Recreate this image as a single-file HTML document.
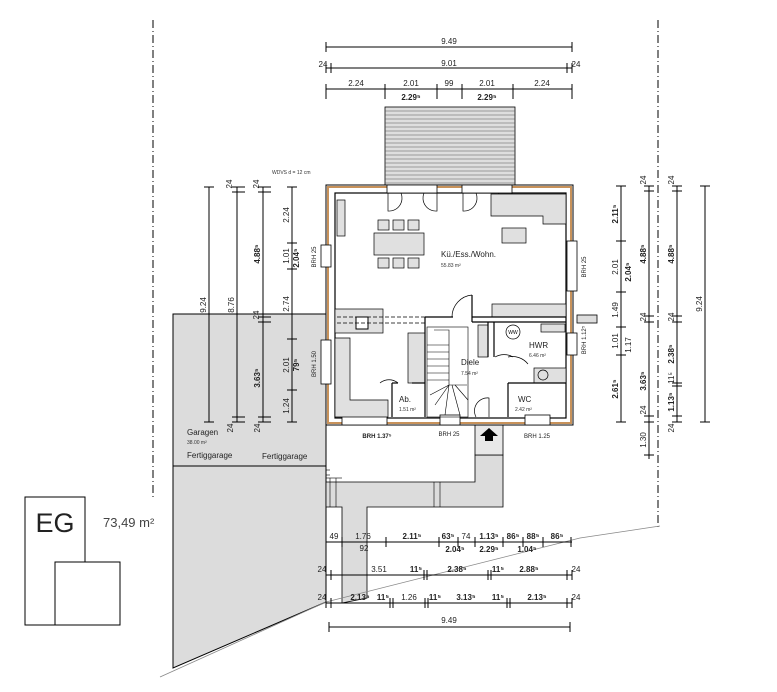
<!DOCTYPE html>
<html><head><meta charset="utf-8"><style>
html,body{margin:0;padding:0;background:#fff;}
svg{display:block;font-family:"Liberation Sans",sans-serif;}
.d{stroke:#000;stroke-width:1;fill:none}
.t{font-size:8px;fill:#222;text-anchor:middle}
.b{font-weight:bold}
.s{font-size:5px;fill:#333}
</style></head><body>
<svg width="777" height="692" viewBox="0 0 777 692" xmlns="http://www.w3.org/2000/svg">
<!-- dash-dot lines -->
<line x1="153" y1="20" x2="153" y2="500" stroke="#000" stroke-width="1" stroke-dasharray="8,3,1,3"/>
<line x1="658" y1="20" x2="658" y2="530" stroke="#000" stroke-width="1" stroke-dasharray="8,3,1,3"/>

<!-- garage grey -->
<polygon points="173,314 326,314 326,602 173,668" fill="#dcdcdc" stroke="#000" stroke-width="1"/>
<line x1="173" y1="466" x2="326" y2="466" stroke="#000"/>
<polygon points="326,482 475,482 475,455 503,455 503,507 367,507 367,598 342,603 342,507 326,507" fill="#dcdcdc" stroke="#000" stroke-width="0.8"/>
<rect x="475" y="425" width="28" height="30" fill="#e8e8e8" stroke="#000" stroke-width="0.8"/>
<path d="M489,428 L480,436 L485,436 L485,441 L493,441 L493,436 L498,436 Z" fill="#000"/>
<line x1="434" y1="482" x2="434" y2="507" stroke="#000" stroke-width="0.6"/>
<line x1="440" y1="482" x2="440" y2="507" stroke="#000" stroke-width="0.6"/>
<g stroke="#000" stroke-width="0.6"><line x1="326" y1="470" x2="330" y2="470"/><line x1="326" y1="475" x2="330" y2="475"/><line x1="326" y1="478" x2="342" y2="478"/><line x1="330" y1="478" x2="330" y2="507"/><line x1="336" y1="478" x2="336" y2="507"/></g>
<!-- diagonal ground line -->
<polyline points="160,677 326,602 580,538 660,526" fill="none" stroke="#888" stroke-width="0.8"/>

<!-- terrace -->
<rect x="385" y="107" width="130" height="80" fill="#dedede" stroke="#000" stroke-width="0.8"/>
<g stroke="#555" stroke-width="0.6">
<line x1="385" y1="111" x2="515" y2="111"/><line x1="385" y1="115" x2="515" y2="115"/><line x1="385" y1="119" x2="515" y2="119"/><line x1="385" y1="123" x2="515" y2="123"/><line x1="385" y1="127" x2="515" y2="127"/><line x1="385" y1="131" x2="515" y2="131"/><line x1="385" y1="135" x2="515" y2="135"/><line x1="385" y1="139" x2="515" y2="139"/><line x1="385" y1="143" x2="515" y2="143"/><line x1="385" y1="147" x2="515" y2="147"/><line x1="385" y1="151" x2="515" y2="151"/><line x1="385" y1="155" x2="515" y2="155"/><line x1="385" y1="159" x2="515" y2="159"/><line x1="385" y1="163" x2="515" y2="163"/><line x1="385" y1="167" x2="515" y2="167"/><line x1="385" y1="171" x2="515" y2="171"/><line x1="385" y1="175" x2="515" y2="175"/><line x1="385" y1="179" x2="515" y2="179"/><line x1="385" y1="183" x2="515" y2="183"/>
</g>

<!-- building walls -->
<rect x="326" y="185" width="247" height="240" fill="#fff" stroke="#000" stroke-width="1"/>
<rect x="328" y="187" width="243" height="236" fill="none" stroke="#c8925a" stroke-width="2"/>
<rect x="335" y="193" width="231" height="225" fill="none" stroke="#000" stroke-width="1.2"/>
<!-- windows -->
<g fill="#fff" stroke="#000" stroke-width="0.8">
<rect x="387" y="185" width="50" height="8"/><rect x="462" y="185" width="50" height="8"/>
<rect x="321" y="245" width="10" height="22"/><rect x="321" y="340" width="10" height="44"/>
<rect x="567" y="241" width="10" height="50"/><rect x="567" y="333" width="10" height="22"/>
<rect x="342" y="415" width="45" height="10"/><rect x="440" y="415" width="20" height="10"/><rect x="525" y="415" width="25" height="10"/>
<rect x="577" y="315" width="20" height="8" fill="#ddd"/>
</g>
<!-- doors top -->
<g fill="none" stroke="#000" stroke-width="0.7">
<path d="M388,193 v18 a13,13 0 0,0 13,-18"/><path d="M437,193 v18 a13,13 0 0,1 -13,-18"/>
<path d="M463,193 v18 a13,13 0 0,0 13,-18"/><path d="M512,193 v18 a13,13 0 0,1 -13,-18"/>
</g>
<!-- furniture -->
<g fill="#e0e0e0" stroke="#000" stroke-width="0.7">
<rect x="337" y="200" width="8" height="36"/>
<rect x="374" y="233" width="50" height="22"/>
<rect x="378" y="220" width="11" height="10"/><rect x="393" y="220" width="11" height="10"/><rect x="408" y="220" width="11" height="10"/>
<rect x="378" y="258" width="11" height="10"/><rect x="393" y="258" width="11" height="10"/><rect x="408" y="258" width="11" height="10"/>
<path d="M491,194 h75 v30 h-23 v-8 h-52 z"/>
<rect x="502" y="228" width="24" height="15"/>
<rect x="492" y="304" width="74" height="13"/>
<rect x="335" y="309" width="48" height="24"/>
<path d="M335,338 h15 v62 h38 v17 h-53 z"/>
<rect x="408" y="333" width="17" height="50"/>
<rect x="478" y="325" width="10" height="32"/>
<rect x="541" y="324" width="24" height="8"/>
<rect x="534" y="368" width="32" height="15"/>
</g>
<rect x="356" y="317" width="12" height="12" fill="#fff" stroke="#000"/>
<line x1="337" y1="317" x2="425" y2="317" stroke="#000" stroke-dasharray="4,2" stroke-width="0.7"/>
<line x1="337" y1="323" x2="425" y2="323" stroke="#000" stroke-dasharray="4,2" stroke-width="0.7"/>
<!-- interior walls -->
<g stroke="#000" stroke-width="1.2" fill="none">
<path d="M425,317 h28"/><path d="M472,317 h94"/><path d="M472,322 h94"/>
<path d="M425,317 v100"/><path d="M472,295 v27"/>
<path d="M488,322 v35"/><path d="M494,322 v35"/>
<path d="M508,383 h58"/><path d="M508,383 v34"/>
<path d="M392,383 v34"/><path d="M392,383 h6"/><path d="M412,383 h13"/>
</g>
<!-- stair -->
<g stroke="#000" stroke-width="0.6" fill="none">
<rect x="427" y="327" width="41" height="90"/>
<path d="M434,330 h15 v55 h18"/>
<line x1="427" y1="345" x2="449" y2="345"/><line x1="427" y1="352" x2="449" y2="352"/><line x1="427" y1="359" x2="449" y2="359"/><line x1="427" y1="366" x2="449" y2="366"/><line x1="427" y1="373" x2="449" y2="373"/><line x1="427" y1="380" x2="449" y2="380"/>
<line x1="449" y1="385" x2="430" y2="395"/><line x1="449" y1="385" x2="435" y2="405"/><line x1="449" y1="385" x2="445" y2="415"/><line x1="452" y1="385" x2="460" y2="415"/><line x1="455" y1="385" x2="468" y2="400"/>
</g>
<!-- door arcs -->
<g fill="none" stroke="#000" stroke-width="0.7">
<path d="M472,295 a22,22 0 0,0 -20,22"/>
<path d="M495,357 a18,18 0 0,1 18,0"/>
<path d="M380,383 a14,14 0 0,1 18,0"/>
<path d="M476,417 a13,13 0 0,1 13,-19 v19"/>
<path d="M508,357 a20,20 0 0,1 20,7"/>
<circle cx="513" cy="332" r="7"/>
<circle cx="543" cy="375" r="5"/>
</g>
<text x="513" y="334" font-size="5" text-anchor="middle">WW</text>

<!-- room labels -->
<text x="441" y="257" font-size="8" fill="#222">Kü./Ess./Wohn.</text>
<text x="441" y="267" class="s">55.83 m²</text>
<text x="529" y="348" font-size="8" fill="#222">HWR</text>
<text x="529" y="357" class="s">6.46 m²</text>
<text x="461" y="365" font-size="8" fill="#222">Diele</text>
<text x="461" y="375" class="s">7.54 m²</text>
<text x="399" y="402" font-size="8" fill="#222">Ab.</text>
<text x="399" y="411" class="s">1.51 m²</text>
<text x="518" y="402" font-size="8" fill="#222">WC</text>
<text x="515" y="411" class="s">2.42 m²</text>
<text x="377" y="438" class="t b" font-size="6" style="font-size:6px">BRH 1.37⁵</text>
<text x="449" y="436" class="t" style="font-size:6px">BRH 25</text>
<text x="537" y="438" class="t" style="font-size:6px">BRH 1.25</text>
<text transform="translate(316,257) rotate(-90)" class="t" style="font-size:6px">BRH 25</text>
<text transform="translate(316,364) rotate(-90)" class="t" style="font-size:6px">BRH 1.50</text>
<text transform="translate(586,267) rotate(-90)" class="t" style="font-size:6px">BRH 25</text>
<text transform="translate(586,340) rotate(-90)" class="t" style="font-size:6px">BRH 1.12⁵</text>
<text x="272" y="174" style="font-size:5px" fill="#333">WDVS d = 12 cm</text>
<text x="187" y="435" font-size="8" fill="#222">Garagen</text>
<text x="187" y="444" class="s">38.00 m²</text>
<text x="187" y="458" font-size="8" fill="#222">Fertiggarage</text>
<text x="262" y="459" font-size="8" fill="#222">Fertiggarage</text>

<!-- EG box -->
<rect x="25" y="497" width="60" height="128" fill="#fff" stroke="#000"/>
<rect x="55" y="562" width="65" height="63" fill="#fff" stroke="#000"/>
<text x="55" y="532" font-size="27" text-anchor="middle" fill="#222">EG</text>
<text x="103" y="527" font-size="13" fill="#444">73,49 m²</text>

<!-- top dims -->
<g class="d">
<line x1="326" y1="47" x2="572" y2="47"/><line x1="326" y1="42" x2="326" y2="52"/><line x1="572" y1="42" x2="572" y2="52"/>
<line x1="326" y1="68" x2="572" y2="68"/>
<line x1="326" y1="63" x2="326" y2="73"/><line x1="331" y1="63" x2="331" y2="73"/><line x1="567" y1="63" x2="567" y2="73"/><line x1="572" y1="63" x2="572" y2="73"/>
<line x1="326" y1="89" x2="572" y2="89"/>
<line x1="326" y1="84" x2="326" y2="99"/><line x1="385" y1="84" x2="385" y2="99"/><line x1="437" y1="84" x2="437" y2="99"/><line x1="462" y1="84" x2="462" y2="99"/><line x1="513" y1="84" x2="513" y2="99"/><line x1="572" y1="84" x2="572" y2="99"/>
</g>
<text x="449" y="44" class="t">9.49</text>
<text x="449" y="66" class="t">9.01</text>
<text x="323" y="67" class="t">24</text><text x="576" y="67" class="t">24</text>
<text x="356" y="86" class="t">2.24</text><text x="411" y="86" class="t">2.01</text><text x="449" y="86" class="t">99</text><text x="487" y="86" class="t">2.01</text><text x="542" y="86" class="t">2.24</text>
<text x="411" y="100" class="t b">2.29⁵</text><text x="487" y="100" class="t b">2.29⁵</text>

<!-- left dims -->
<g class="d">
<line x1="209" y1="187" x2="209" y2="422"/><line x1="204" y1="187" x2="214" y2="187"/><line x1="204" y1="422" x2="214" y2="422"/>
<line x1="237" y1="187" x2="237" y2="422"/><line x1="232" y1="187" x2="245" y2="187"/><line x1="232" y1="192" x2="245" y2="192"/><line x1="232" y1="417" x2="245" y2="417"/><line x1="232" y1="422" x2="245" y2="422"/>
<line x1="263" y1="187" x2="263" y2="422"/><line x1="258" y1="187" x2="271" y2="187"/><line x1="258" y1="192" x2="271" y2="192"/><line x1="258" y1="317" x2="271" y2="317"/><line x1="258" y1="322" x2="271" y2="322"/><line x1="258" y1="417" x2="271" y2="417"/><line x1="258" y1="422" x2="271" y2="422"/>
<line x1="292" y1="187" x2="292" y2="422"/><line x1="287" y1="187" x2="297" y2="187"/><line x1="287" y1="243" x2="297" y2="243"/><line x1="287" y1="269" x2="297" y2="269"/><line x1="287" y1="339" x2="297" y2="339"/><line x1="287" y1="390" x2="297" y2="390"/><line x1="287" y1="422" x2="297" y2="422"/>
</g>
<g class="t">
<text transform="translate(206,305) rotate(-90)">9.24</text>
<text transform="translate(234,305) rotate(-90)">8.76</text>
<text transform="translate(232,184) rotate(-90)">24</text>
<text transform="translate(259,184) rotate(-90)">24</text>
<text transform="translate(260,254) rotate(-90)" class="b">4.88⁵</text>
<text transform="translate(259,315) rotate(-90)">24</text>
<text transform="translate(260,378) rotate(-90)" class="b">3.63⁵</text>
<text transform="translate(233,428) rotate(-90)">24</text>
<text transform="translate(260,428) rotate(-90)">24</text>
<text transform="translate(289,215) rotate(-90)">2.24</text>
<text transform="translate(289,256) rotate(-90)">1.01</text>
<text transform="translate(299,258) rotate(-90)" class="b">2.04⁵</text>
<text transform="translate(289,304) rotate(-90)">2.74</text>
<text transform="translate(289,365) rotate(-90)">2.01</text>
<text transform="translate(299,365) rotate(-90)" class="b">79⁵</text>
<text transform="translate(289,406) rotate(-90)">1.24</text>
</g>

<!-- right dims -->
<g class="d">
<line x1="621" y1="186" x2="621" y2="422"/><line x1="616" y1="186" x2="626" y2="186"/><line x1="616" y1="241" x2="626" y2="241"/><line x1="616" y1="292" x2="626" y2="292"/><line x1="616" y1="327" x2="626" y2="327"/><line x1="616" y1="355" x2="626" y2="355"/><line x1="616" y1="422" x2="626" y2="422"/>
<line x1="649" y1="186" x2="649" y2="459"/><line x1="644" y1="186" x2="654" y2="186"/><line x1="644" y1="191" x2="654" y2="191"/><line x1="644" y1="316" x2="654" y2="316"/><line x1="644" y1="322" x2="654" y2="322"/><line x1="644" y1="416" x2="654" y2="416"/><line x1="644" y1="422" x2="654" y2="422"/><line x1="644" y1="455" x2="654" y2="455"/>
<line x1="677" y1="186" x2="677" y2="422"/><line x1="672" y1="186" x2="682" y2="186"/><line x1="672" y1="191" x2="682" y2="191"/><line x1="672" y1="316" x2="682" y2="316"/><line x1="672" y1="322" x2="682" y2="322"/><line x1="672" y1="383" x2="682" y2="383"/><line x1="672" y1="386" x2="682" y2="386"/><line x1="672" y1="416" x2="682" y2="416"/><line x1="672" y1="422" x2="682" y2="422"/>
<line x1="705" y1="186" x2="705" y2="422"/><line x1="700" y1="186" x2="710" y2="186"/><line x1="700" y1="422" x2="710" y2="422"/>
</g>
<g class="t">
<text transform="translate(618,214) rotate(-90)" class="b">2.11⁵</text>
<text transform="translate(618,267) rotate(-90)">2.01</text>
<text transform="translate(618,310) rotate(-90)">1.49</text>
<text transform="translate(618,341) rotate(-90)">1.01</text>
<text transform="translate(618,389) rotate(-90)" class="b">2.61⁵</text>
<text transform="translate(631,272) rotate(-90)" class="b">2.04⁵</text>
<text transform="translate(631,345) rotate(-90)">1.17</text>
<text transform="translate(646,180) rotate(-90)">24</text>
<text transform="translate(646,254) rotate(-90)" class="b">4.88⁵</text>
<text transform="translate(646,317) rotate(-90)">24</text>
<text transform="translate(646,381) rotate(-90)" class="b">3.63⁵</text>
<text transform="translate(646,410) rotate(-90)">24</text>
<text transform="translate(646,440) rotate(-90)">1.30</text>
<text transform="translate(674,180) rotate(-90)">24</text>
<text transform="translate(674,254) rotate(-90)" class="b">4.88⁵</text>
<text transform="translate(674,317) rotate(-90)">24</text>
<text transform="translate(674,354) rotate(-90)" class="b">2.38⁵</text>
<text transform="translate(674,378) rotate(-90)">11⁵</text>
<text transform="translate(674,402) rotate(-90)" class="b">1.13⁵</text>
<text transform="translate(674,428) rotate(-90)">24</text>
<text transform="translate(702,304) rotate(-90)">9.24</text>
</g>

<!-- bottom dims -->
<g class="d">
<line x1="326" y1="542" x2="572" y2="542"/>
<line x1="326" y1="537" x2="326" y2="547"/><line x1="342" y1="537" x2="342" y2="547"/><line x1="386" y1="537" x2="386" y2="547"/><line x1="439" y1="537" x2="439" y2="547"/><line x1="458" y1="537" x2="458" y2="547"/><line x1="475" y1="537" x2="475" y2="547"/><line x1="503" y1="537" x2="503" y2="547"/><line x1="523" y1="537" x2="523" y2="547"/><line x1="543" y1="537" x2="543" y2="547"/><line x1="571" y1="537" x2="571" y2="547"/>
<line x1="326" y1="575" x2="572" y2="575"/>
<line x1="326" y1="570" x2="326" y2="580"/><line x1="331" y1="570" x2="331" y2="580"/><line x1="424" y1="570" x2="424" y2="580"/><line x1="427" y1="570" x2="427" y2="580"/><line x1="488" y1="570" x2="488" y2="580"/><line x1="491" y1="570" x2="491" y2="580"/><line x1="567" y1="570" x2="567" y2="580"/><line x1="572" y1="570" x2="572" y2="580"/>
<line x1="326" y1="603" x2="572" y2="603"/>
<line x1="326" y1="598" x2="326" y2="608"/><line x1="331" y1="598" x2="331" y2="608"/><line x1="390" y1="598" x2="390" y2="608"/><line x1="393" y1="598" x2="393" y2="608"/><line x1="425" y1="598" x2="425" y2="608"/><line x1="428" y1="598" x2="428" y2="608"/><line x1="507" y1="598" x2="507" y2="608"/><line x1="510" y1="598" x2="510" y2="608"/><line x1="567" y1="598" x2="567" y2="608"/><line x1="572" y1="598" x2="572" y2="608"/>
<line x1="329" y1="627" x2="570" y2="627"/><line x1="329" y1="622" x2="329" y2="632"/><line x1="570" y1="622" x2="570" y2="632"/>
</g>
<g class="t">
<text x="334" y="539">49</text><text x="363" y="539">1.76</text><text x="364" y="551">92</text>
<text x="412" y="539" class="b">2.11⁵</text><text x="448" y="539" class="b">63⁵</text><text x="466" y="539">74</text>
<text x="489" y="539" class="b">1.13⁵</text><text x="513" y="539" class="b">86⁵</text><text x="533" y="539" class="b">88⁵</text><text x="557" y="539" class="b">86⁵</text>
<text x="455" y="552" class="b">2.04⁵</text><text x="489" y="552" class="b">2.29⁵</text><text x="527" y="552" class="b">1.04⁵</text>
<text x="322" y="572">24</text><text x="379" y="572">3.51</text><text x="416" y="572" class="b">11⁵</text><text x="457" y="572" class="b">2.38⁵</text><text x="498" y="572" class="b">11⁵</text><text x="529" y="572" class="b">2.88⁵</text><text x="576" y="572">24</text>
<text x="322" y="600">24</text><text x="360" y="600" class="b">2.13⁵</text><text x="383" y="600" class="b">11⁵</text><text x="409" y="600">1.26</text><text x="435" y="600" class="b">11⁵</text><text x="466" y="600" class="b">3.13⁵</text><text x="498" y="600" class="b">11⁵</text><text x="537" y="600" class="b">2.13⁵</text><text x="576" y="600">24</text>
<text x="449" y="623">9.49</text>
</g>
</svg>
</body></html>
